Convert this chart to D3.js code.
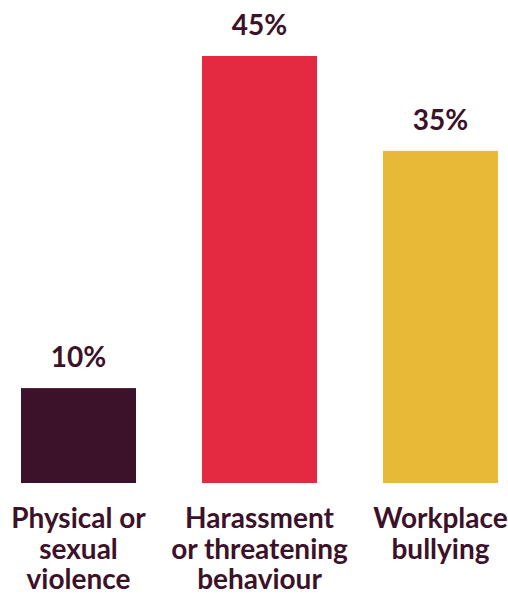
<!DOCTYPE html>
<html>
<head>
<meta charset="utf-8">
<script src="https://cdn.jsdelivr.net/npm/d3@7"></script>
<style>
  html, body { margin: 0; padding: 0; background: #fff; }
  svg { display: block; }
  text { font-family: Lato, "Open Sans", sans-serif; fill: #3b1229; }
</style>
</head>
<body>
<svg id="chart" width="508" height="595"></svg>
<script>
// Share of reported incidents by type
const categories = ["Physical or sexual violence", "Harassment or threatening behaviour", "Workplace bullying"];
const labelLines = [["Physical or", "sexual", "violence"], ["Harassment", "or threatening", "behaviour"], ["Workplace", "bullying"]];
const values = [10, 45, 35];
const colors = ["#3b1229", "#e32a40", "#e8b936"];

const svg = d3.select("#chart");

const x = d3.scaleBand()
  .domain(categories)
  .range([21, 498])
  .paddingInner(0.3646)
  .paddingOuter(0);

const y = d3.scaleLinear()
  .domain([0, 45])
  .range([483, 56]);

// bars
svg.selectAll("rect.bar")
  .data(categories)
  .join("rect")
  .attr("class", "bar")
  .attr("x", d => x(d))
  .attr("width", x.bandwidth())
  .attr("y", (d, i) => y(values[i]))
  .attr("height", (d, i) => y(0) - y(values[i]))
  .attr("fill", (d, i) => colors[i]);

// value labels above bars
svg.selectAll("text.value")
  .data(categories)
  .join("text")
  .attr("class", "value")
  .attr("x", d => x(d) + x.bandwidth() / 2)
  .attr("y", (d, i) => y(values[i]) - 21)
  .attr("text-anchor", "middle")
  .style("font-size", "28px")
  .style("font-weight", 700)
  .text((d, i) => values[i] + "%");

// category labels below the baseline, one text per line
const lineRows = [];
categories.forEach((c, i) => {
  labelLines[i].forEach((t, j) => lineRows.push({ cat: c, text: t, row: j }));
});

svg.selectAll("text.cat")
  .data(lineRows)
  .join("text")
  .attr("class", "cat")
  .attr("x", d => x(d.cat) + x.bandwidth() / 2)
  .attr("y", d => 528 + d.row * 30.5)
  .attr("text-anchor", "middle")
  .style("font-size", "28px")
  .style("font-weight", 700)
  .text(d => d.text);
</script>
</body>
</html>
